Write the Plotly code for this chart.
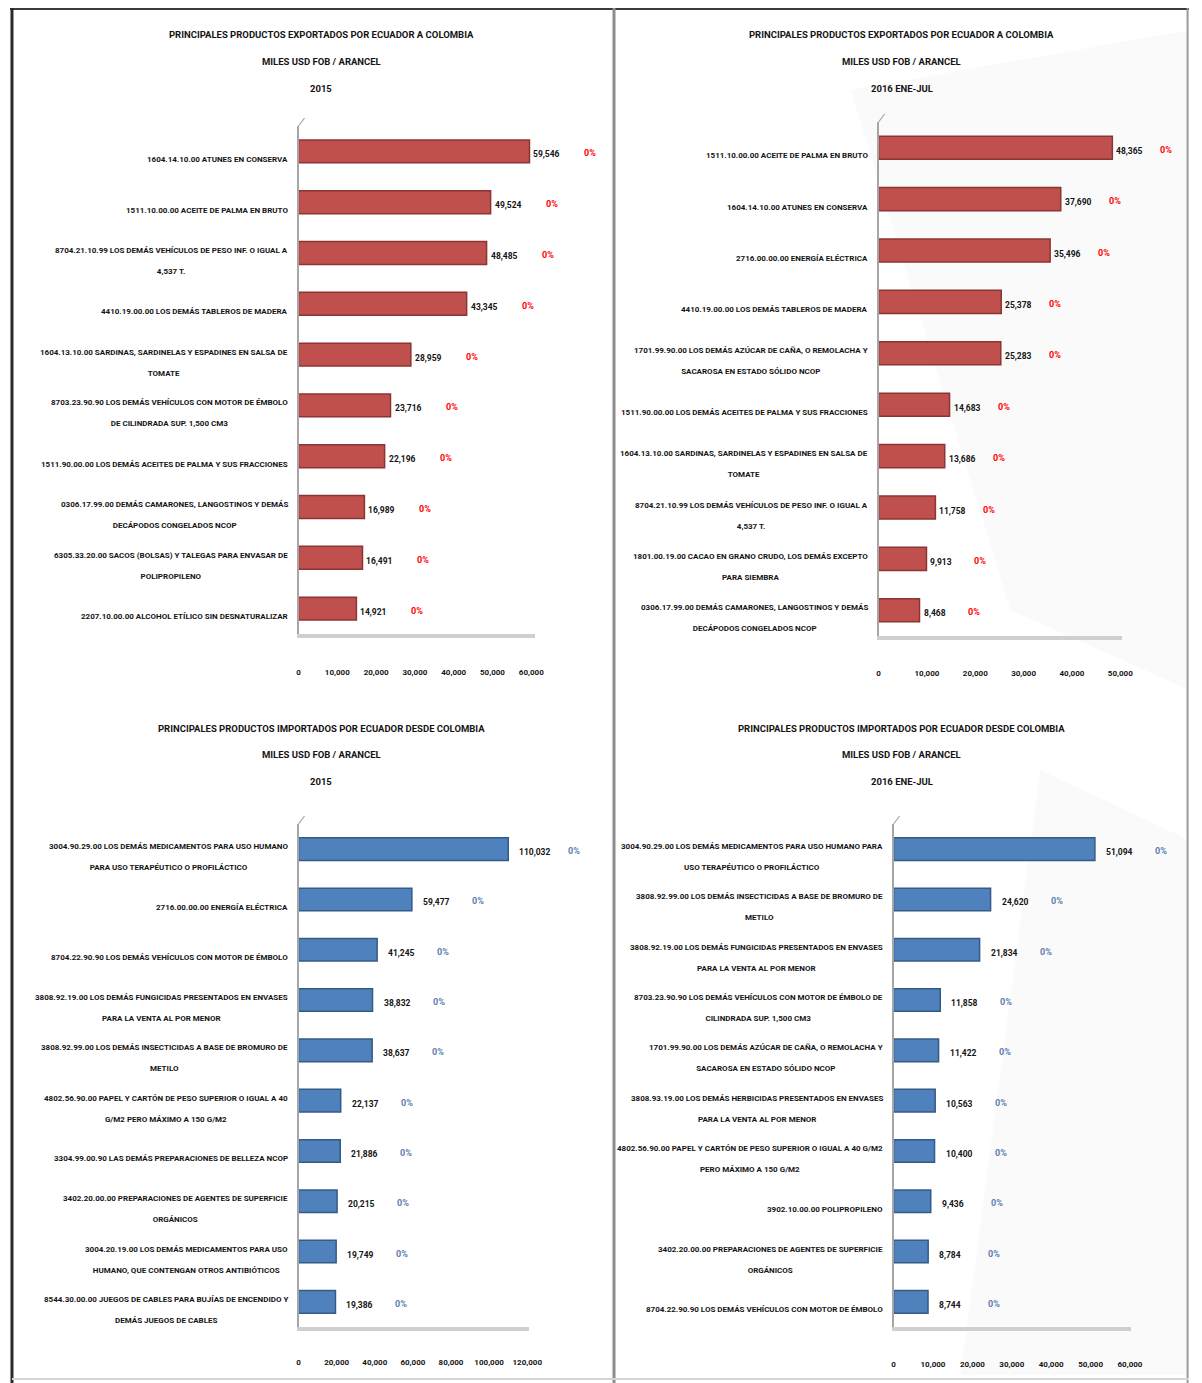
import plotly.graph_objects as go

W, H = 1202, 1383

# ---------------- DATA ----------------
exp2015_labels = [
    "1604.14.10.00 ATUNES EN CONSERVA",
    "1511.10.00.00 ACEITE DE PALMA EN BRUTO",
    "8704.21.10.99 LOS DEMÁS VEHÍCULOS DE PESO INF. O IGUAL A<br>4,537 T.",
    "4410.19.00.00 LOS DEMÁS TABLEROS DE MADERA",
    "1604.13.10.00 SARDINAS, SARDINELAS Y ESPADINES EN SALSA DE<br>TOMATE",
    "8703.23.90.90 LOS DEMÁS VEHÍCULOS CON MOTOR DE ÉMBOLO<br>DE CILINDRADA SUP. 1,500 CM3",
    "1511.90.00.00 LOS DEMÁS ACEITES DE PALMA Y SUS FRACCIONES",
    "0306.17.99.00 DEMÁS CAMARONES, LANGOSTINOS Y DEMÁS<br>DECÁPODOS CONGELADOS NCOP",
    "6305.33.20.00 SACOS (BOLSAS) Y TALEGAS PARA ENVASAR DE<br>POLIPROPILENO",
    "2207.10.00.00 ALCOHOL ETÍLICO SIN DESNATURALIZAR",
]
exp2015_values = [59546, 49524, 48485, 43345, 28959, 23716, 22196, 16989, 16491, 14921]
exp2015_arancel = ["0%", "0%", "0%", "0%", "0%", "0%", "0%", "0%", "0%", "0%"]

exp2016_labels = [
    "1511.10.00.00 ACEITE DE PALMA EN BRUTO",
    "1604.14.10.00 ATUNES EN CONSERVA",
    "2716.00.00.00 ENERGÍA ELÉCTRICA",
    "4410.19.00.00 LOS DEMÁS TABLEROS DE MADERA",
    "1701.99.90.00 LOS DEMÁS AZÚCAR DE CAÑA, O REMOLACHA Y<br>SACAROSA EN ESTADO SÓLIDO NCOP",
    "1511.90.00.00 LOS DEMÁS ACEITES DE PALMA Y SUS FRACCIONES",
    "1604.13.10.00 SARDINAS, SARDINELAS Y ESPADINES EN SALSA DE<br>TOMATE",
    "8704.21.10.99 LOS DEMÁS VEHÍCULOS DE PESO INF. O IGUAL A<br>4,537 T.",
    "1801.00.19.00 CACAO EN GRANO CRUDO, LOS DEMÁS EXCEPTO<br>PARA SIEMBRA",
    "0306.17.99.00 DEMÁS CAMARONES, LANGOSTINOS Y DEMÁS<br>DECÁPODOS CONGELADOS NCOP",
]
exp2016_values = [48365, 37690, 35496, 25378, 25283, 14683, 13686, 11758, 9913, 8468]
exp2016_arancel = ["0%", "0%", "0%", "0%", "0%", "0%", "0%", "0%", "0%", "0%"]

imp2015_labels = [
    "3004.90.29.00 LOS DEMÁS MEDICAMENTOS PARA USO HUMANO<br>PARA USO TERAPÉUTICO O PROFILÁCTICO",
    "2716.00.00.00 ENERGÍA ELÉCTRICA",
    "8704.22.90.90 LOS DEMÁS VEHÍCULOS CON MOTOR DE ÉMBOLO",
    "3808.92.19.00 LOS DEMÁS FUNGICIDAS PRESENTADOS EN ENVASES<br>PARA LA VENTA AL POR MENOR",
    "3808.92.99.00 LOS DEMÁS INSECTICIDAS A BASE DE BROMURO DE<br>METILO",
    "4802.56.90.00 PAPEL Y CARTÓN DE PESO SUPERIOR O IGUAL A 40<br>G/M2 PERO MÁXIMO A 150 G/M2",
    "3304.99.00.90 LAS DEMÁS PREPARACIONES DE BELLEZA NCOP",
    "3402.20.00.00 PREPARACIONES DE AGENTES DE SUPERFICIE<br>ORGÁNICOS",
    "3004.20.19.00 LOS DEMÁS MEDICAMENTOS PARA USO<br>HUMANO, QUE CONTENGAN OTROS ANTIBIÓTICOS",
    "8544.30.00.00 JUEGOS DE CABLES PARA BUJÍAS DE ENCENDIDO Y<br>DEMÁS JUEGOS DE CABLES",
]
imp2015_values = [110032, 59477, 41245, 38832, 38637, 22137, 21886, 20215, 19749, 19386]
imp2015_arancel = ["0%", "0%", "0%", "0%", "0%", "0%", "0%", "0%", "0%", "0%"]

imp2016_labels = [
    "3004.90.29.00 LOS DEMÁS MEDICAMENTOS PARA USO HUMANO PARA<br>USO TERAPÉUTICO O PROFILÁCTICO",
    "3808.92.99.00 LOS DEMÁS INSECTICIDAS A BASE DE BROMURO DE<br>METILO",
    "3808.92.19.00 LOS DEMÁS FUNGICIDAS PRESENTADOS EN ENVASES<br>PARA LA VENTA AL POR MENOR",
    "8703.23.90.90 LOS DEMÁS VEHÍCULOS CON MOTOR DE ÉMBOLO DE<br>CILINDRADA SUP. 1,500 CM3",
    "1701.99.90.00 LOS DEMÁS AZÚCAR DE CAÑA, O REMOLACHA Y<br>SACAROSA EN ESTADO SÓLIDO NCOP",
    "3808.93.19.00 LOS DEMÁS HERBICIDAS PRESENTADOS EN ENVASES<br>PARA LA VENTA AL POR MENOR",
    "4802.56.90.00 PAPEL Y CARTÓN DE PESO SUPERIOR O IGUAL A 40 G/M2<br>PERO MÁXIMO A 150 G/M2",
    "3902.10.00.00 POLIPROPILENO",
    "3402.20.00.00 PREPARACIONES DE AGENTES DE SUPERFICIE<br>ORGÁNICOS",
    "8704.22.90.90 LOS DEMÁS VEHÍCULOS CON MOTOR DE ÉMBOLO",
]
imp2016_values = [51094, 24620, 21834, 11858, 11422, 10563, 10400, 9436, 8784, 8744]
imp2016_arancel = ["0%", "0%", "0%", "0%", "0%", "0%", "0%", "0%", "0%", "0%"]

title_exp = ["PRINCIPALES PRODUCTOS EXPORTADOS POR ECUADOR A COLOMBIA", "MILES USD FOB / ARANCEL"]
title_imp = ["PRINCIPALES PRODUCTOS IMPORTADOS POR ECUADOR DESDE COLOMBIA", "MILES USD FOB / ARANCEL"]
periods = ["2015", "2016 ENE-JUL", "2015", "2016 ENE-JUL"]

ticks_exp2015 = [0, 10000, 20000, 30000, 40000, 50000, 60000]
ticks_exp2016 = [0, 10000, 20000, 30000, 40000, 50000]
ticks_imp2015 = [0, 20000, 40000, 60000, 80000, 100000, 120000]
ticks_imp2016 = [0, 10000, 20000, 30000, 40000, 50000, 60000]

# ---------------- STYLE / LAYOUT ----------------
FONT = "Roboto, Liberation Sans, sans-serif"
RED, RED_EDGE = "#C0504D", "#8A3533"
BLUE, BLUE_EDGE = "#4F81BD", "#345A88"
TXT = "#141414"
XS = 1.011  # horizontal correction measured for the capture


def fx(px):
    return min(px * XS / W, 1.0)


def fy(py):
    return 1 - py / H


def small_lines(label, size):
    # keep glyphs small but lines widely spaced (line spacing follows the outer font size)
    return "<br>".join(f'<span style="font-size:{size}px">{ln}</span>' for ln in label.split("<br>"))


panels = [
    dict(lab=exp2015_labels, val=exp2015_values, ar=exp2015_arancel, ticks=ticks_exp2015,
         col=RED, edge=RED_EDGE, pcol="#FF0000", x0=297, x1=534, xmax=61000, yt=126, yb=634,
         title=title_exp, period=periods[0], tcx=320, ty=35, vshift=2, pshift=53, so=27),
    dict(lab=exp2016_labels, val=exp2016_values, ar=exp2016_arancel, ticks=ticks_exp2016,
         col=RED, edge=RED_EDGE, pcol="#FF0000", x0=878, x1=1122, xmax=50400, yt=122, yb=636,
         title=title_exp, period=periods[1], tcx=901, ty=35, vshift=2, pshift=46, so=26),
    dict(lab=imp2015_labels, val=imp2015_values, ar=imp2015_arancel, ticks=ticks_imp2015,
         col=BLUE, edge=BLUE_EDGE, pcol="#5B7DB1", x0=297, x1=528, xmax=121000, yt=824, yb=1327,
         title=title_imp, period=periods[2], tcx=320, ty=728, vshift=9, pshift=58, so=24),
    dict(lab=imp2016_labels, val=imp2016_values, ar=imp2016_arancel, ticks=ticks_imp2016,
         col=BLUE, edge=BLUE_EDGE, pcol="#5B7DB1", x0=893, x1=1131, xmax=60300, yt=824, yb=1327,
         title=title_imp, period=periods[3], tcx=901, ty=728, vshift=9, pshift=58, so=26),
]

fig = go.Figure()
annotations = []
shapes = []

for i, p in enumerate(panels):
    n = "" if i == 0 else str(i + 1)
    xa, ya = "x" + n, "y" + n
    fig.add_trace(go.Bar(
        x=p["val"], y=p["lab"], orientation="h", xaxis=xa, yaxis=ya,
        marker=dict(color=p["col"], line=dict(color=p["edge"], width=1.5)),
        width=0.45, showlegend=False, hoverinfo="x+y",
    ))
    fig.layout["xaxis" + n] = dict(
        domain=[fx(p["x0"]), fx(p["x1"])], range=[0, p["xmax"]], anchor=ya,
        tickvals=p["ticks"], ticktext=[f"<b>{t:,}</b>" for t in p["ticks"]], tickangle=0,
        tickfont=dict(family=FONT, size=8, color=TXT), showgrid=False, zeroline=False,
        showline=True, linecolor="#CFCFCF", linewidth=4, ticks="", ticklabelstandoff=p["so"],
        fixedrange=True,
    )
    fig.layout["yaxis" + n] = dict(
        domain=[fy(p["yb"]), fy(p["yt"])], anchor=xa, autorange="reversed",
        showticklabels=False, showgrid=False, zeroline=False, showline=True,
        linecolor="#A6A6A6", linewidth=1.5, ticks="", fixedrange=True,
    )
    # slanted top of the chart wall
    shapes.append(dict(type="line", xref="paper", yref="paper",
                       x0=fx(p["x0"]), y0=fy(p["yt"]), x1=fx(p["x0"] + 6), y1=fy(p["yt"] - 8),
                       line=dict(color="#A6A6A6", width=1.2)))
    for k, t in enumerate(p["title"] + [p["period"]]):
        annotations.append(dict(
            xref="paper", yref="paper", x=fx(p["tcx"]), y=fy(p["ty"] + 26.5 * k),
            text=f"<b>{t}</b>", showarrow=False, xanchor="center", yanchor="middle",
            font=dict(family=FONT, size=9.5, color=TXT),
        ))
    for lab, v, ar in zip(p["lab"], p["val"], p["ar"]):
        # category label (lines centred, right edge next to the axis)
        annotations.append(dict(
            xref=xa, yref=ya, x=0, y=lab, text="<b>" + small_lines(lab, 8) + "</b>",
            showarrow=False, xanchor="right", yanchor="middle", align="center",
            xshift=-9, yshift=-8, font=dict(family=FONT, size=16.5, color=TXT),
        ))
        # value label
        annotations.append(dict(
            xref=xa, yref=ya, x=v, y=lab, text=f"<b>{v:,}</b>", showarrow=False, xanchor="left",
            yanchor="middle", xshift=p["vshift"], yshift=-3,
            font=dict(family=FONT, size=8.5, color=TXT),
        ))
        # arancel label
        annotations.append(dict(
            xref=xa, yref=ya, x=v, y=lab, text=f"<b>{ar}</b>", showarrow=False, xanchor="left",
            yanchor="middle", xshift=p["pshift"], yshift=-2,
            font=dict(family=FONT, size=9, color=p["pcol"]),
        ))

# faint watermark shapes on right half
shapes += [
    dict(type="path", xref="paper", yref="paper", layer="below",
         path=f"M {fx(850)} {fy(90)} L {fx(1195)} {fy(30)} L {fx(1195)} {fy(690)} L {fx(1010)} {fy(610)} Z",
         fillcolor="rgba(240,240,240,0.35)", line=dict(width=0)),
    dict(type="path", xref="paper", yref="paper", layer="below",
         path=f"M {fx(1040)} {fy(770)} L {fx(1195)} {fy(840)} L {fx(1195)} {fy(1375)} L {fx(960)} {fy(1375)} Z",
         fillcolor="rgba(240,240,240,0.35)", line=dict(width=0)),
]
# frame lines
shapes += [
    dict(type="line", xref="paper", yref="paper", x0=fx(8), x1=fx(1200), y0=fy(9), y1=fy(9),
         line=dict(color="#3A3A3A", width=2)),
    dict(type="line", xref="paper", yref="paper", x0=fx(10), x1=fx(10), y0=fy(8), y1=fy(1383),
         line=dict(color="#2A2A2A", width=3)),
    dict(type="line", xref="paper", yref="paper", x0=fx(613), x1=fx(613), y0=fy(8), y1=fy(1383),
         line=dict(color="#8C8C8C", width=3)),
    dict(type="line", xref="paper", yref="paper", x0=0.9988, x1=0.9988, y0=fy(8), y1=fy(1383),
         line=dict(color="#9A9A9A", width=2)),
    dict(type="line", xref="paper", yref="paper", x0=fx(10), x1=fx(1200), y0=fy(1379), y1=fy(1379),
         line=dict(color="#D5D5D5", width=2)),
]

fig.update_layout(
    width=W, height=H, margin=dict(l=0, r=0, t=0, b=0),
    paper_bgcolor="white", plot_bgcolor="rgba(0,0,0,0)",
    annotations=annotations, shapes=shapes, bargap=0.5,
    font=dict(family=FONT),
)

fig.write_html(
    "out.html",
    config={"displayModeBar": False},
    post_script="document.body.style.margin='0px';document.body.style.overflow='hidden';",
)
